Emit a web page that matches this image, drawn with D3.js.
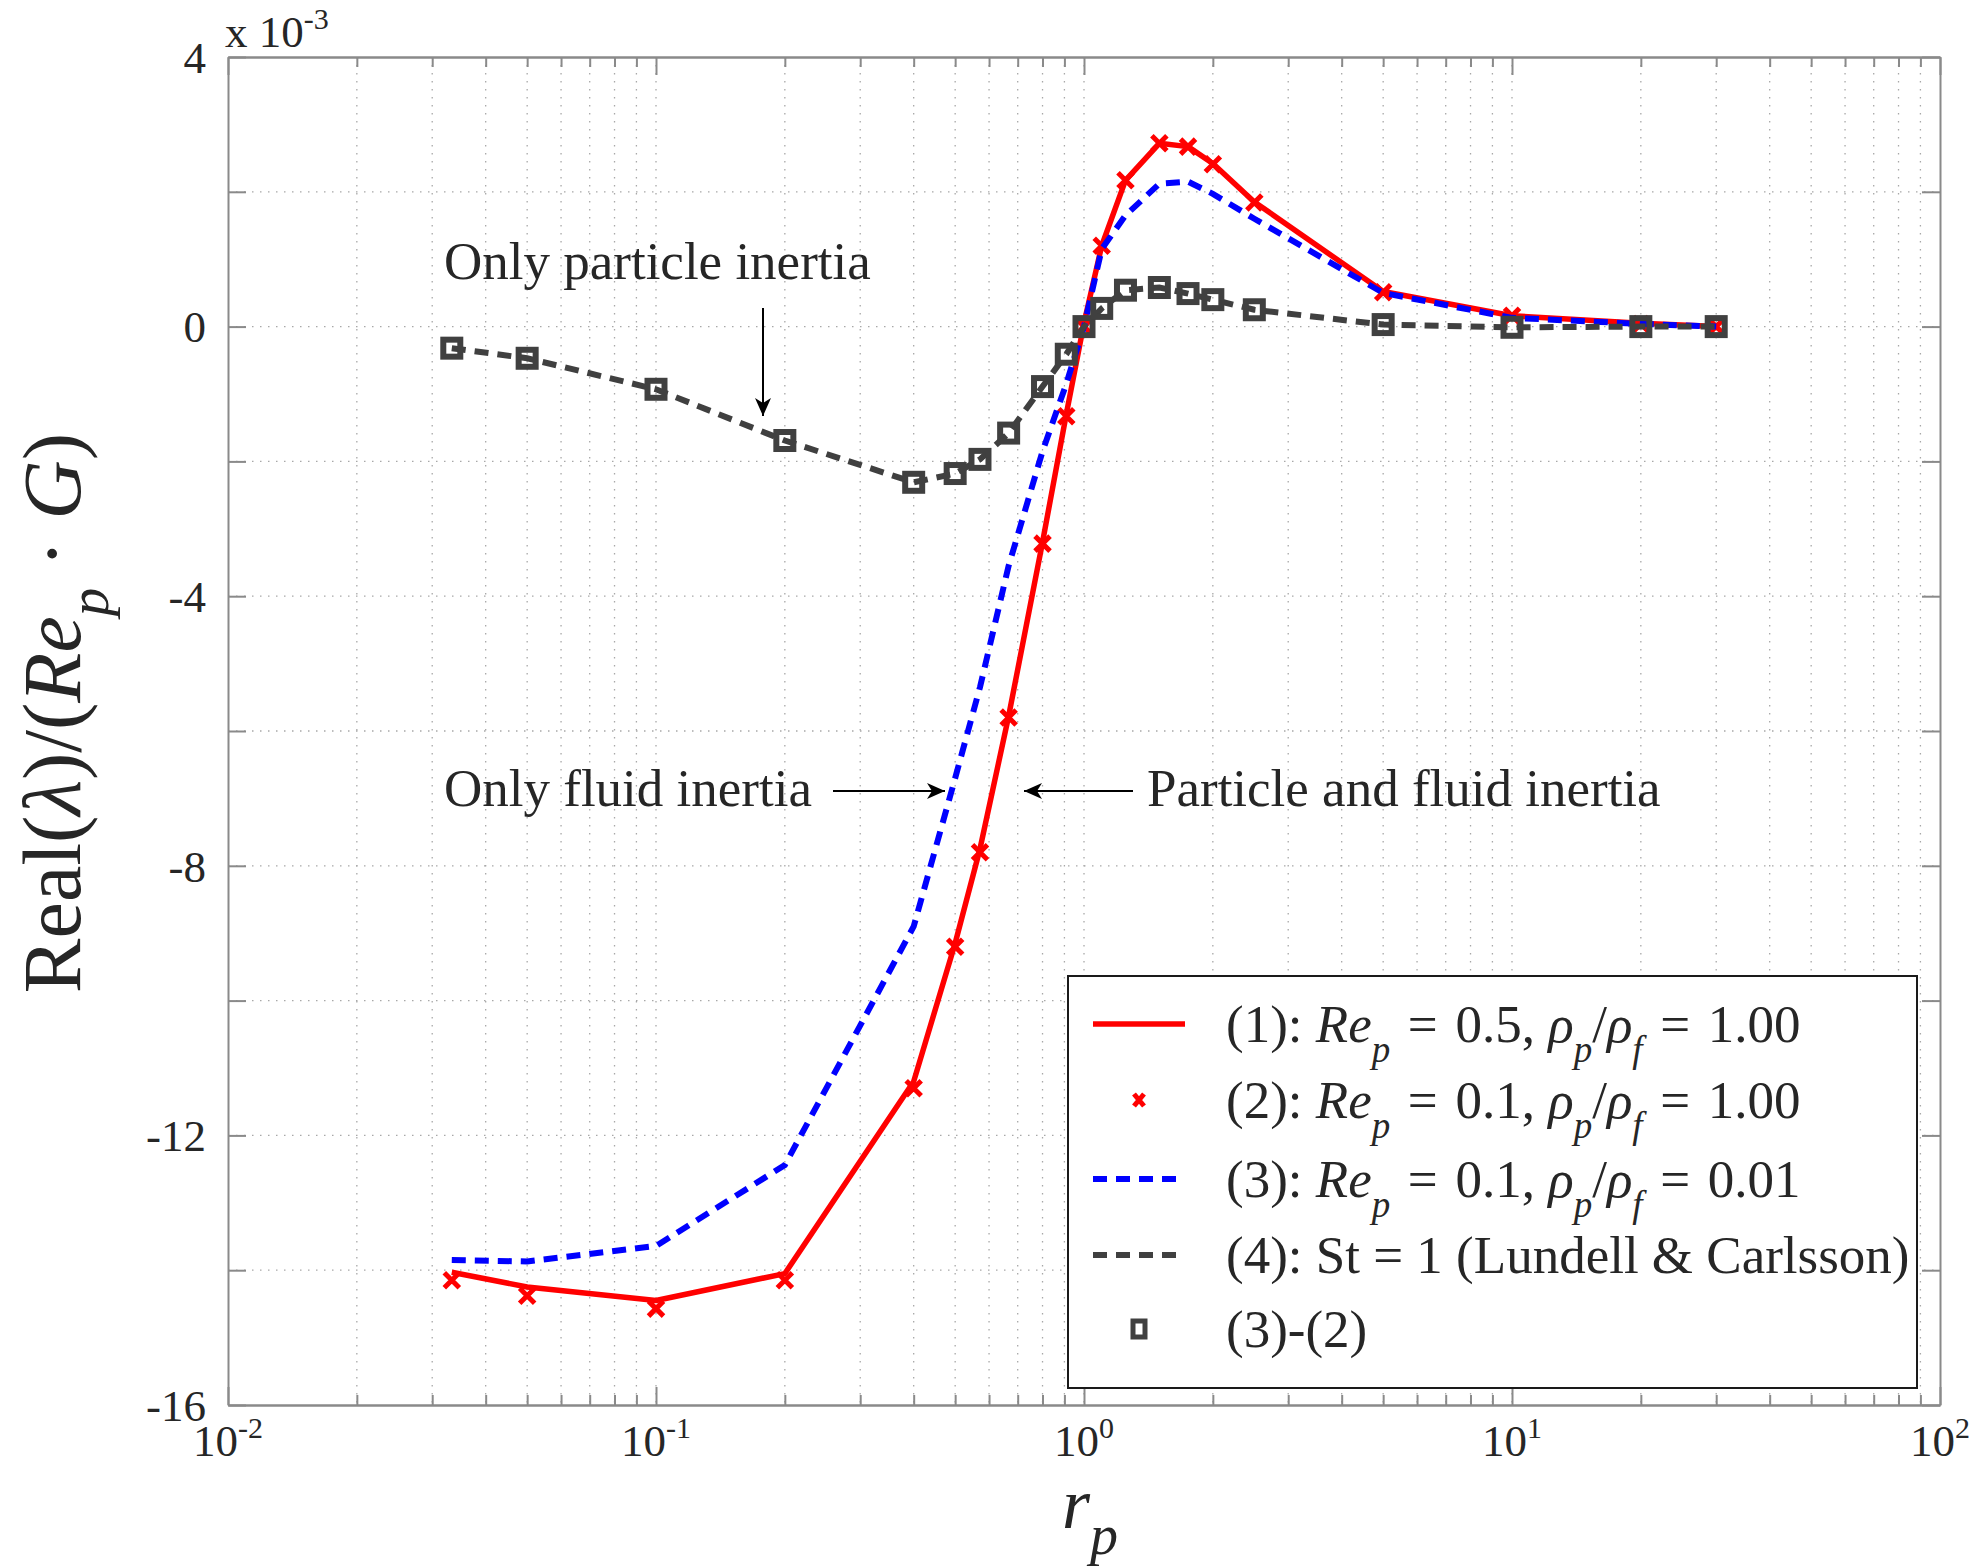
<!DOCTYPE html>
<html>
<head>
<meta charset="utf-8">
<script src="https://cdn.jsdelivr.net/npm/d3@7"></script>
<style>
  body { margin: 0; background: #fff; }
  svg text { font-family: "Liberation Serif", "DejaVu Serif", serif; fill: #262626; }
</style>
</head>
<body>
<div id="chart"></div>
<script>
// radius ratio r_p (values come in r, 1/r pairs)
var rp = [1/30, 1/20, 1/10, 1/5, 1/2.5, 1/2, 1/1.75, 1/1.5, 1/1.25, 1/1.1, 1,
          1.1, 1.25, 1.5, 1.75, 2, 2.5, 5, 10, 20, 30];

// Real(lambda)/(Re_p G), in units of 1e-3
// (1) Re_p = 0.5, rho_p/rho_f = 1.00  -> red solid line
var case1 = [-14.03, -14.25, -14.45, -14.05, -11.2, -9.15, -7.75, -5.78, -3.2, -1.3, 0.05,
             1.2, 2.17, 2.72, 2.67, 2.42, 1.85, 0.52, 0.16, 0.05, 0];
// (2) Re_p = 0.1, rho_p/rho_f = 1.00  -> red x markers
var case2 = [-14.15, -14.38, -14.57, -14.15, -11.3, -9.2, -7.8, -5.8, -3.22, -1.33, 0,
             1.2, 2.17, 2.72, 2.67, 2.41, 1.84, 0.51, 0.16, 0.04, 0];
// (3) Re_p = 0.1, rho_p/rho_f = 0.01  -> blue dashed
var case3 = [-13.85, -13.87, -13.64, -12.44, -8.9, -6.7, -5.35, -3.55, -1.85, -0.85, 0,
             1.15, 1.65, 2.12, 2.15, 1.97, 1.6, 0.5, 0.13, 0.04, 0];
// (4) St = 1 (Lundell & Carlsson) -> grey dashed
var lundell = [-0.32, -0.47, -0.93, -1.69, -2.31, -2.18, -1.97, -1.58, -0.89, -0.41, 0,
               0.27, 0.54, 0.58, 0.49, 0.40, 0.25, 0.03, -0.01, 0, 0];
// (3)-(2) -> grey squares
var diff32 = [-0.32, -0.47, -0.93, -1.69, -2.31, -2.18, -1.97, -1.58, -0.89, -0.41, 0,
              0.27, 0.54, 0.58, 0.49, 0.40, 0.25, 0.03, -0.01, 0, 0];

// tick labels
var xTickExp = [-2, -1, 0, 1, 2];
var yTicks = [-16, -14, -12, -10, -8, -6, -4, -2, 0, 2, 4];
var yLabelled = [-16, -12, -8, -4, 0, 4];

// legend entries (segments: t = text, i = italic, s = subscript)
var EQ = "\u2004=\u2004";
var legendLabels = [
  [{t: "(1): "}, {t: "Re", i: 1}, {t: "p", i: 1, s: 1}, {t: EQ + "0.5, "}, {t: "ρ", i: 1}, {t: "p", i: 1, s: 1}, {t: "/"}, {t: "ρ", i: 1}, {t: "f", i: 1, s: 1}, {t: EQ + "1.00"}],
  [{t: "(2): "}, {t: "Re", i: 1}, {t: "p", i: 1, s: 1}, {t: EQ + "0.1, "}, {t: "ρ", i: 1}, {t: "p", i: 1, s: 1}, {t: "/"}, {t: "ρ", i: 1}, {t: "f", i: 1, s: 1}, {t: EQ + "1.00"}],
  [{t: "(3): "}, {t: "Re", i: 1}, {t: "p", i: 1, s: 1}, {t: EQ + "0.1, "}, {t: "ρ", i: 1}, {t: "p", i: 1, s: 1}, {t: "/"}, {t: "ρ", i: 1}, {t: "f", i: 1, s: 1}, {t: EQ + "0.01"}],
  [{t: "(4): St = 1 (Lundell & Carlsson)"}],
  [{t: "(3)-(2)"}]
];

var RED = "#ff0000", BLUE = "#0000ff", GREY = "#404040";

var margin = {top: 57, right: 48, bottom: 162, left: 228},
    width = 1988 - margin.left - margin.right,
    height = 1567 - margin.top - margin.bottom;

var x = d3.scaleLog().domain([0.01, 100]).range([0, width]);
var y = d3.scaleLinear().domain([-16, 4]).range([height, 0]);

var root = d3.select("#chart").append("svg")
  .attr("width", 1988)
  .attr("height", 1567)
  .style("background", "#fff");

var svg = root.append("g")
  .attr("transform", "translate(" + margin.left + "," + margin.top + ")");

// minor ticks of the log axis
var xMinor = [];
xTickExp.slice(0, -1).forEach(function(e) {
  for (var k = 2; k <= 9; k++) xMinor.push(k * Math.pow(10, e));
});
var xMajor = xTickExp.map(function(e) { return Math.pow(10, e); });

// dotted grid
var grid = svg.append("g").attr("class", "grid")
  .attr("stroke", "#a8a8a8").attr("stroke-width", 1.3).attr("stroke-dasharray", "1.5,6.5");
grid.selectAll(".gx").data(xMinor.concat(xMajor.slice(1, -1))).enter().append("line")
  .attr("x1", function(d) { return x(d); }).attr("x2", function(d) { return x(d); })
  .attr("y1", 0).attr("y2", height);
grid.selectAll(".gy").data(yTicks.slice(1, -1)).enter().append("line")
  .attr("y1", function(d) { return y(d); }).attr("y2", function(d) { return y(d); })
  .attr("x1", 0).attr("x2", width);

// axes (ticks inward, box on)
function styleAxis(g) {
  g.selectAll("path, line").attr("stroke", "#8a8a8a").attr("stroke-width", 2);
  g.selectAll("text").remove();
}
svg.append("g").attr("transform", "translate(0," + height + ")")
  .call(d3.axisBottom(x).tickValues(xMajor).tickSizeInner(-18).tickSizeOuter(0)).call(styleAxis);
svg.append("g").attr("transform", "translate(0," + height + ")")
  .call(d3.axisBottom(x).tickValues(xMinor).tickSizeInner(-10).tickSizeOuter(0)).call(styleAxis);
svg.append("g")
  .call(d3.axisTop(x).tickValues(xMajor).tickSizeInner(-18).tickSizeOuter(0)).call(styleAxis);
svg.append("g")
  .call(d3.axisTop(x).tickValues(xMinor).tickSizeInner(-10).tickSizeOuter(0)).call(styleAxis);
svg.append("g")
  .call(d3.axisLeft(y).tickValues(yTicks).tickSizeInner(-18).tickSizeOuter(0)).call(styleAxis);
svg.append("g").attr("transform", "translate(" + width + ",0)")
  .call(d3.axisRight(y).tickValues(yTicks).tickSizeInner(-18).tickSizeOuter(0)).call(styleAxis);

// x tick labels 10^e
xTickExp.forEach(function(e) {
  var t = svg.append("text")
    .attr("x", x(Math.pow(10, e)))
    .attr("y", height + 51)
    .attr("text-anchor", "middle")
    .style("font-size", "45px");
  t.append("tspan").text("10");
  t.append("tspan").attr("dy", -18).style("font-size", "30px").text(e);
});

// y tick labels
svg.selectAll(".ylab").data(yLabelled).enter().append("text")
  .attr("x", -22)
  .attr("y", function(d) { return y(d); })
  .attr("dy", "0.35em")
  .attr("text-anchor", "end")
  .style("font-size", "45px")
  .text(function(d) { return d; });

// exponent label
var ex = root.append("text").attr("x", 225).attr("y", 47).style("font-size", "45px");
ex.append("tspan").text("x 10");
ex.append("tspan").attr("dy", -18).style("font-size", "30px").text("-3");

// series
function pts(vals) { return rp.map(function(r, i) { return [r, vals[i]]; }); }
var line = d3.line()
  .x(function(d) { return x(d[0]); })
  .y(function(d) { return y(d[1]); });

svg.append("path").datum(pts(case1))
  .attr("fill", "none").attr("stroke", RED).attr("stroke-width", 5.5)
  .attr("stroke-linejoin", "round").attr("d", line);

svg.selectAll(".xm").data(pts(case2)).enter().append("path")
  .attr("transform", function(d) { return "translate(" + x(d[0]) + "," + y(d[1]) + ")"; })
  .attr("d", "M-7.5,-7.5L7.5,7.5M-7.5,7.5L7.5,-7.5")
  .attr("stroke", RED).attr("stroke-width", 5).attr("fill", "none");

svg.append("path").datum(pts(case3))
  .attr("fill", "none").attr("stroke", BLUE).attr("stroke-width", 6)
  .attr("stroke-dasharray", "14,9").attr("d", line);

svg.append("path").datum(pts(lundell))
  .attr("fill", "none").attr("stroke", GREY).attr("stroke-width", 6)
  .attr("stroke-dasharray", "14,9").attr("d", line);

svg.selectAll(".sq").data(pts(diff32)).enter().append("rect")
  .attr("x", function(d) { return x(d[0]) - 8.5; })
  .attr("y", function(d) { return y(d[1]) - 8.5; })
  .attr("width", 17).attr("height", 17)
  .attr("fill", "none").attr("stroke", GREY).attr("stroke-width", 6);

// annotations with arrows
function arrow(x1, y1, x2, y2) {
  var a = Math.atan2(y2 - y1, x2 - x1) * 180 / Math.PI;
  root.append("line").attr("x1", x1).attr("y1", y1).attr("x2", x2).attr("y2", y2)
    .attr("stroke", "#000").attr("stroke-width", 2);
  root.append("path")
    .attr("transform", "translate(" + x2 + "," + y2 + ") rotate(" + a + ")")
    .attr("d", "M0,0L-18,-8L-13,0L-18,8Z").attr("fill", "#000");
}
function note(tx, ty, txt) {
  root.append("text").attr("x", tx).attr("y", ty).style("font-size", "53px").text(txt);
}
note(444, 279, "Only particle inertia");
arrow(763, 308, 763, 416);
note(444, 806, "Only fluid inertia");
arrow(833, 791, 945, 791);
note(1147, 806, "Particle and fluid inertia");
arrow(1133, 791, 1024, 791);

// axis titles
var yl = root.append("text")
  .attr("transform", "translate(80,713) rotate(-90)")
  .attr("text-anchor", "middle")
  .style("font-size", "82px");
yl.append("tspan").text("Real(");
yl.append("tspan").style("font-style", "italic").text("λ");
yl.append("tspan").text(")/(");
yl.append("tspan").style("font-style", "italic").text("Re");
yl.append("tspan").style("font-style", "italic").style("font-size", "57px").attr("dy", 28).text("p");
yl.append("tspan").attr("dy", -28).text(" · ");
yl.append("tspan").style("font-style", "italic").text("G");
yl.append("tspan").text(")");

var xl = root.append("text").attr("x", 1062).attr("y", 1528).style("font-size", "72px");
xl.append("tspan").style("font-style", "italic").text("r");
xl.append("tspan").style("font-style", "italic").style("font-size", "56px").attr("dy", 26).text("p");

// legend
var lg = root.append("g").attr("class", "legend");
lg.append("rect").attr("x", 1068).attr("y", 976).attr("width", 849).attr("height", 412)
  .attr("fill", "#fff").attr("stroke", "#1a1a1a").attr("stroke-width", 2);
var rowY = [1024, 1100, 1179, 1255, 1329];
var fs = 53;
legendLabels.forEach(function(segs, r) {
  var t = lg.append("text").attr("x", 1226).attr("y", rowY[r] + 18).style("font-size", fs + "px");
  var sub = false;
  segs.forEach(function(s) {
    var ts = t.append("tspan").text(s.t);
    if (s.i) ts.style("font-style", "italic");
    if (s.s) { ts.style("font-size", Math.round(fs * 0.7) + "px").attr("dy", fs * 0.38); sub = true; }
    else if (sub) { ts.attr("dy", -fs * 0.38); sub = false; }
  });
});
lg.append("line").attr("x1", 1093).attr("x2", 1185).attr("y1", rowY[0]).attr("y2", rowY[0])
  .attr("stroke", RED).attr("stroke-width", 5.5);
lg.append("path").attr("transform", "translate(1139," + rowY[1] + ")")
  .attr("d", "M-5,-6L5,6M-5,6L5,-6").attr("stroke", RED).attr("stroke-width", 5);
lg.append("line").attr("x1", 1093).attr("x2", 1185).attr("y1", rowY[2]).attr("y2", rowY[2])
  .attr("stroke", BLUE).attr("stroke-width", 6).attr("stroke-dasharray", "14,9");
lg.append("line").attr("x1", 1093).attr("x2", 1185).attr("y1", rowY[3]).attr("y2", rowY[3])
  .attr("stroke", GREY).attr("stroke-width", 6).attr("stroke-dasharray", "14,9");
lg.append("rect").attr("x", 1133).attr("y", rowY[4] - 8).attr("width", 12).attr("height", 16)
  .attr("fill", "none").attr("stroke", GREY).attr("stroke-width", 5);
</script>
</body>
</html>
